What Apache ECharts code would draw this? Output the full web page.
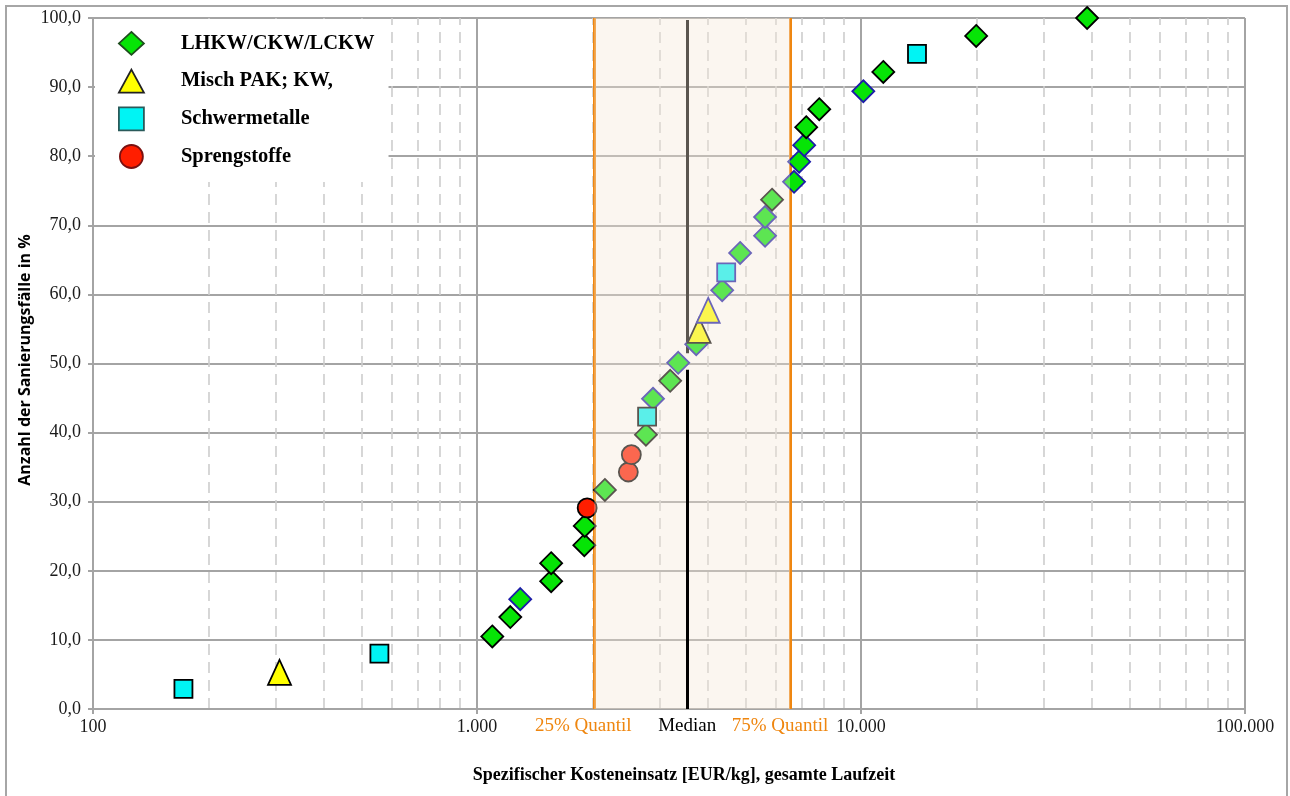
<!DOCTYPE html>
<html>
<head>
<meta charset="utf-8">
<script src="https://cdn.jsdelivr.net/npm/echarts@6/dist/echarts.min.js"></script>
<style>
  html, body { margin: 0; padding: 0; background: #fff; }
  #chart { width: 1290px; height: 796px; }
</style>
</head>
<body>
<div id="chart"></div>
<script>
// ---------- data (cost in EUR/kg, share of cases in %) ----------
const seriesNames = ['LHKW/CKW/LCKW', 'Misch PAK; KW,', 'Schwermetalle', 'Sprengstoffe'];

const lhkwCost = [1096, 1221, 1296, 1560, 1560, 1903, 1908, 2153, 2754, 2873, 3185, 3342, 3723, 4350, 4844, 5625, 5625, 5866, 6693, 6900, 7113, 7200, 7785, 10140, 11430, 19950, 38800];
const lhkwPct  = [10.5, 13.3, 15.9, 18.5, 21.1, 23.7, 26.5, 31.7, 39.7, 44.9, 47.5, 50.1, 52.8, 60.6, 66.0, 68.5, 71.2, 73.7, 76.3, 79.2, 81.6, 84.2, 86.8, 89.4, 92.2, 97.4, 100.0];

const pakCost = [306, 3788, 4000];
const pakPct  = [5.3, 54.8, 57.7];

const metalCost = [172, 557, 2773, 4456, 13990];
const metalPct  = [2.9, 8.0, 42.3, 63.2, 94.8];

const explCost = [1936, 2478, 2523];
const explPct  = [29.1, 34.3, 36.8];

// points drawn with a blue outline in the original (indices into the arrays above)
const lhkwBlueOutline  = [2, 9, 11, 12, 13, 14, 15, 16, 18, 19, 20, 23];
const pakBlueOutline   = [2];
const metalBlueOutline = [3];
const explBlueOutline  = [];

// reference lines (EUR/kg)
const q25 = 2020;
const median = 3526;
const q75 = 6535;

// ---------- styling ----------
const SERIF = '"Liberation Serif", "Times New Roman", serif';
const BLUE = '#1c1ca8';
const ORANGE = '#ef860f';
const GRID_GREY = '#a4a4a4';

function pts(cost, pct, blue) {
  return cost.map((c, i) => {
    const o = { value: [c, pct[i]] };
    if (blue.indexOf(i) >= 0) o.itemStyle = { borderColor: BLUE };
    return o;
  });
}

const minorValues = [];
[100, 1000, 10000].forEach(d => { for (let m = 2; m <= 9; m++) minorValues.push(d * m); });

const chart = echarts.init(document.getElementById('chart'), null, { renderer: 'canvas' });

const option = {
  animation: false,
  backgroundColor: '#fff',
  grid: { left: 93, right: 45, top: 18, bottom: 87, containLabel: false },
  xAxis: {
    type: 'log', logBase: 10, min: 100, max: 100000, splitNumber: 3,
    axisLine: { show: true, onZero: false, lineStyle: { color: GRID_GREY, width: 2 } },
    axisTick: { show: true, length: 5, lineStyle: { color: GRID_GREY, width: 2 } },
    axisLabel: {
      margin: 9, color: '#1a1a1a', fontFamily: SERIF, fontSize: 18,
      formatter: v => String(Math.round(v)).replace(/\B(?=(\d{3})+(?!\d))/g, '.')
    },
    splitLine: { show: true, lineStyle: { color: GRID_GREY, width: 2 } },
    minorTick: { show: false }, minorSplitLine: { show: false }
  },
  yAxis: {
    type: 'value', min: 0, max: 100, interval: 10,
    axisLine: { show: true, onZero: false, lineStyle: { color: GRID_GREY, width: 2 } },
    axisTick: { show: true, length: 5, lineStyle: { color: GRID_GREY, width: 2 } },
    axisLabel: {
      margin: 12, color: '#1a1a1a', fontFamily: SERIF, fontSize: 18,
      formatter: v => v.toFixed(1).replace('.', ',')
    },
    splitLine: { show: true, lineStyle: { color: GRID_GREY, width: 2 } }
  },
  legend: {
    orient: 'vertical', left: 95, top: 19,
    padding: [12, 14, 13, 23],
    backgroundColor: '#fff',
    itemWidth: 25, itemHeight: 23, itemGap: 12.9,
    textStyle: { fontFamily: SERIF, fontSize: 20.5, fontWeight: 'bold', color: '#000', padding: [0, 0, 0, 32] },
    data: [
      { name: seriesNames[0], itemStyle: { borderColor: '#1e4d1e', borderWidth: 1.8 } },
      { name: seriesNames[1], itemStyle: { borderColor: '#222', borderWidth: 1.8 } },
      { name: seriesNames[2], itemStyle: { borderColor: '#2a5a5a', borderWidth: 1.8 } },
      { name: seriesNames[3], itemStyle: { borderColor: '#7a1010', borderWidth: 1.8 } }
    ]
  },
  graphic: [
    { type: 'rect', silent: true, z: -10, shape: { x: 6, y: 6, width: 1281, height: 830 },
      style: { fill: 'none', stroke: '#a6a6a6', lineWidth: 2 } },
    { type: 'text', silent: true, x: 25, y: 360, rotation: Math.PI / 2,
      style: { text: 'Anzahl der Sanierungsfälle in %', font: 'bold 16px "Open Sans", Lato, sans-serif',
               fill: '#000', align: 'center', verticalAlign: 'middle' } },
    { type: 'text', silent: true, x: 684, y: 775,
      style: { text: 'Spezifischer Kosteneinsatz [EUR/kg], gesamte Laufzeit', font: 'bold 18px ' + SERIF,
               fill: '#000', align: 'center', verticalAlign: 'middle' } }
  ],
  series: [
    // minor dashed grid lines
    {
      type: 'scatter', name: '_minor', data: [], z: 0, silent: true,
      markLine: {
        z: 0, silent: true, symbol: ['none', 'none'], label: { show: false },
        lineStyle: { type: [11, 7], color: '#cdcdcd', width: 1.6 },
        data: minorValues.map(v => [{ coord: [v, 0] }, { coord: [v, 100] }])
      }
    },
    // quantile lines (below markers) and upper median part
    {
      type: 'scatter', name: '_quant', data: [], z: 1, silent: true,
      markLine: {
        z: 1, silent: true, symbol: ['none', 'none'],
        data: [
          [{ coord: [q25, 0], lineStyle: { color: ORANGE, width: 3, type: 'solid' },
             label: { show: true, position: 'start', formatter: '25% Quantil', color: ORANGE,
                      fontFamily: SERIF, fontSize: 19, distance: 8, padding: [0, 22, 0, 0] } },
           { coord: [q25, 100] }],
          [{ coord: [q75, 0], lineStyle: { color: ORANGE, width: 3, type: 'solid' },
             label: { show: true, position: 'start', formatter: '75% Quantil', color: ORANGE,
                      fontFamily: SERIF, fontSize: 19, distance: 8, padding: [0, 20, 0, 0] } },
           { coord: [q75, 100] }],
          [{ coord: [median, 51.5], lineStyle: { color: '#000', width: 3, type: 'solid' }, label: { show: false } },
           { coord: [median, 99.7] }]
        ]
      }
    },
    {
      type: 'scatter', name: seriesNames[0], z: 2, clip: false,
      symbol: 'diamond', symbolSize: 22,
      itemStyle: { color: '#06e406', borderColor: '#000', borderWidth: 1.8, opacity: 1 },
      data: pts(lhkwCost, lhkwPct, lhkwBlueOutline)
    },
    {
      type: 'scatter', name: seriesNames[1], z: 2, clip: false,
      symbol: 'triangle', symbolSize: [23, 25],
      itemStyle: { color: '#ffff00', borderColor: '#000', borderWidth: 1.8, opacity: 1 },
      data: pts(pakCost, pakPct, pakBlueOutline)
    },
    {
      type: 'scatter', name: seriesNames[2], z: 2, clip: false,
      symbol: 'rect', symbolSize: 18,
      itemStyle: { color: '#00f4f4', borderColor: '#000', borderWidth: 1.8, opacity: 1 },
      data: pts(metalCost, metalPct, metalBlueOutline)
    },
    {
      type: 'scatter', name: seriesNames[3], z: 2, clip: false,
      symbol: 'circle', symbolSize: 19,
      itemStyle: { color: '#ff1e00', borderColor: '#000', borderWidth: 1.8, opacity: 1 },
      data: pts(explCost, explPct, explBlueOutline)
    },
    // interquartile band drawn over the markers (semi-transparent)
    {
      type: 'custom', name: '_band', z: 3, silent: true,
      encode: { x: [0, 1] },
      data: [[q25, q75]],
      renderItem: (params, api) => {
        const a = api.coord([api.value(0), 100]);
        const b = api.coord([api.value(1), 0]);
        return {
          type: 'rect',
          shape: { x: a[0], y: a[1], width: b[0] - a[0], height: b[1] - a[1] },
          style: { fill: 'rgba(244,231,214,0.37)' }
        };
      }
    },
    // lower median part (on top)
    {
      type: 'scatter', name: '_median', data: [], z: 4, silent: true,
      markLine: {
        z: 6, silent: true, symbol: ['none', 'none'],
        data: [
          [{ coord: [median, 0], lineStyle: { color: '#000', width: 3, type: 'solid' },
             label: { show: true, position: 'start', formatter: 'Median', color: '#000',
                      fontFamily: SERIF, fontSize: 19, distance: 8 } },
           { coord: [median, 49.1] }]
        ]
      }
    }
  ]
};

chart.setOption(option);
</script>
</body>
</html>
